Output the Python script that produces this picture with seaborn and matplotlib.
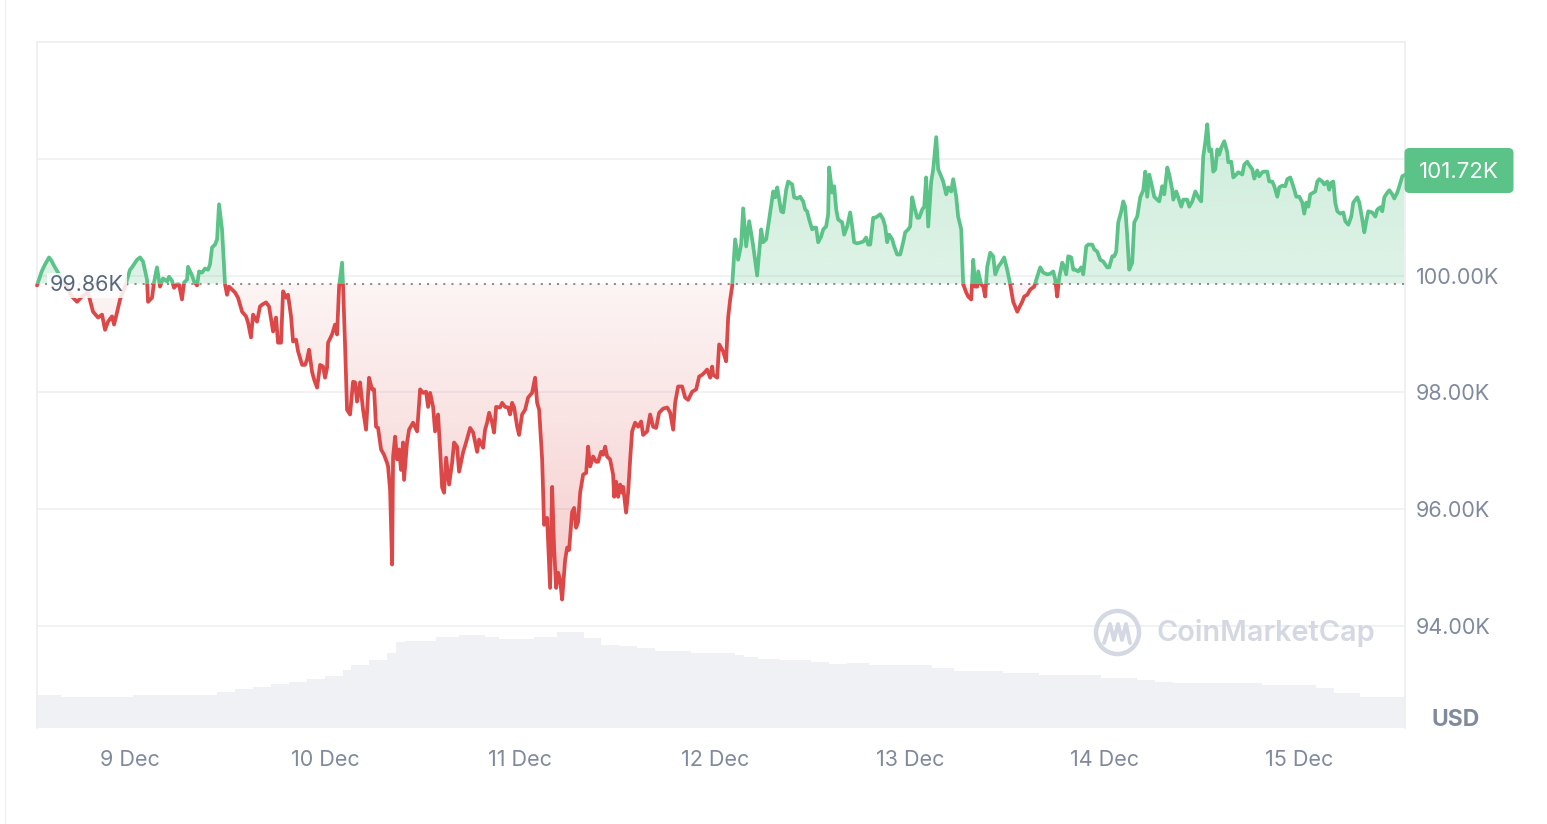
import numpy as np
import pandas as pd
import matplotlib
matplotlib.use("Agg")
import matplotlib.pyplot as plt
import seaborn as sns
from matplotlib.patches import FancyBboxPatch, Rectangle
from matplotlib.path import Path
from matplotlib.lines import Line2D
from matplotlib.colors import to_rgb

# ---------------- data ----------------
START = pd.Timestamp("2024-12-08 12:30")
HOURS = [
    0.00, 0.58, 0.99, 1.48, 1.81, 2.01, 2.59, 3.45, 4.31, 4.93, 5.54, 6.28, 6.90, 7.52, 8.01, 8.38,
    8.75, 9.24, 9.49, 9.86, 10.23, 10.84, 11.46, 11.70, 12.32, 12.69, 13.06, 13.55, 13.68, 14.17,
    14.41, 14.78, 15.15, 15.52, 16.02, 16.26, 16.63, 16.88, 17.25, 17.49, 17.86, 18.11, 18.48,
    18.60, 19.10, 19.34, 19.71, 19.96, 20.33, 20.70, 21.07, 21.31, 21.56, 21.93, 22.18, 22.42,
    22.79, 23.16, 23.41, 23.65, 24.02, 24.39, 24.76, 25.26, 25.75, 26.00, 26.36, 26.61, 27.10,
    27.47, 27.72, 28.21, 28.58, 29.08, 29.44, 29.69, 30.06, 30.31, 30.68, 30.92, 31.29, 31.54,
    31.91, 32.16, 32.65, 33.02, 33.26, 33.51, 33.88, 34.13, 34.50, 34.87, 35.24, 35.48, 35.73,
    35.85, 36.34, 36.71, 36.96, 37.21, 37.58, 37.70, 37.95, 38.19, 38.56, 38.93, 39.18, 39.42,
    39.79, 40.16, 40.53, 40.90, 41.27, 41.52, 41.76, 42.01, 42.38, 42.75, 43.12, 43.24, 43.49,
    43.74, 43.86, 44.11, 44.35, 44.60, 44.84, 45.09, 45.21, 45.58, 45.83, 46.32, 46.82, 47.19,
    47.56, 47.92, 48.17, 48.42, 48.79, 49.03, 49.40, 49.65, 49.90, 50.14, 50.39, 50.76, 51.13,
    51.37, 51.74, 51.99, 52.48, 52.85, 53.35, 53.72, 54.21, 54.45, 54.95, 55.19, 55.44, 55.69,
    56.06, 56.30, 56.55, 57.04, 57.29, 57.66, 58.03, 58.27, 58.52, 58.77, 59.14, 59.38, 59.75,
    60.12, 60.49, 60.98, 61.35, 61.60, 61.85, 62.22, 62.46, 62.83, 63.20, 63.45, 63.69, 63.94,
    64.19, 64.43, 64.68, 65.05, 65.30, 65.54, 65.91, 66.16, 66.40, 66.65, 66.90, 67.27, 67.64,
    67.88, 68.13, 68.50, 68.87, 69.12, 69.48, 69.73, 69.98, 70.22, 70.59, 70.96, 71.09, 71.33,
    71.58, 71.83, 72.07, 72.20, 72.56, 72.81, 73.06, 73.30, 73.67, 74.04, 74.41, 74.66, 75.15,
    75.52, 75.89, 76.26, 76.63, 77.12, 77.62, 77.99, 78.36, 78.60, 78.97, 79.46, 79.83, 80.20,
    80.70, 81.19, 81.56, 81.93, 82.30, 82.54, 82.91, 83.16, 83.28, 83.78, 84.02, 84.52, 84.88,
    85.13, 85.38, 85.62, 85.99, 86.36, 86.73, 86.98, 87.35, 87.72, 88.09, 88.33, 88.70, 89.20,
    89.44, 89.81, 90.18, 90.68, 90.92, 91.17, 91.66, 91.91, 92.28, 92.52, 93.02, 93.26, 93.63,
    94.00, 94.37, 94.62, 94.86, 95.11, 95.48, 95.73, 95.97, 96.22, 96.59, 96.84, 97.20, 97.45,
    97.57, 97.94, 98.19, 98.44, 98.68, 99.18, 99.42, 99.79, 100.16, 100.41, 100.65, 101.02,
    101.52, 101.76, 102.13, 102.38, 102.63, 103.00, 103.24, 103.49, 103.86, 104.23, 104.47,
    104.72, 104.97, 105.34, 105.58, 105.95, 106.32, 106.69, 106.94, 107.31, 107.55, 107.80,
    108.05, 108.42, 108.66, 109.03, 109.28, 109.52, 109.77, 110.14, 110.39, 110.76, 111.00,
    111.37, 111.62, 111.99, 112.24, 112.60, 112.85, 113.22, 113.46, 113.84, 114.08, 114.45,
    114.70, 115.07, 115.32, 115.56, 115.81, 115.93, 116.30, 116.55, 116.79, 117.04, 117.41,
    117.78, 118.03, 118.40, 118.76, 119.13, 119.50, 119.87, 120.24, 120.74, 120.98, 121.35,
    121.60, 121.97, 122.34, 122.83, 123.20, 123.57, 123.94, 124.43, 124.80, 125.17, 125.42,
    125.66, 125.91, 126.28, 126.53, 126.77, 127.02, 127.39, 127.64, 127.88, 128.25, 128.62,
    128.87, 129.24, 129.48, 129.98, 130.22, 130.59, 130.96, 131.33, 131.82, 132.07, 132.44,
    132.69, 132.93, 133.18, 133.55, 133.80, 134.04, 134.29, 134.53, 134.90, 135.15, 135.52,
    135.89, 136.26, 136.51, 136.75, 137.00, 137.37, 137.61, 137.98, 138.23, 138.60, 138.85,
    139.22, 139.46, 139.83, 139.96, 140.32, 140.57, 140.94, 141.19, 141.68, 141.93, 142.30,
    142.67, 143.04, 143.40, 143.65, 143.90, 144.14, 144.39, 144.64, 144.88, 145.13, 145.38,
    145.62, 145.87, 146.24, 146.61, 146.73, 147.10, 147.35, 147.72, 147.96, 148.46, 148.70,
    149.07, 149.32, 149.69, 149.93, 150.30, 150.55, 150.92, 151.17, 151.54, 151.78, 152.15,
    152.40, 152.77, 153.01, 153.38, 153.75, 154.00, 154.37, 154.74, 155.11, 155.48, 155.85,
    156.09, 156.34, 156.59, 156.83, 157.20, 157.45, 157.70, 157.94, 158.31, 158.56, 158.93,
    159.17, 159.42, 159.67, 159.91, 160.16, 160.53, 160.90, 161.15, 161.52, 161.88, 162.13,
    162.62, 162.87, 163.24, 163.49, 163.73, 163.98, 164.47, 164.84, 165.09, 165.46, 165.70,
    165.95, 166.32, 166.57, 166.94, 167.18, 167.55, 167.80, 168.17, 168.41,
]
PRICE_K = [
    99.83, 100.07, 100.19, 100.31, 100.25, 100.19, 100.05, 99.85, 99.64, 99.55, 99.64, 99.71, 99.38, 99.28, 99.33, 99.07,
    99.21, 99.30, 99.16, 99.37, 99.59, 99.81, 100.10, 100.14, 100.27, 100.31, 100.24, 99.93, 99.55, 99.62,
    99.88, 100.14, 99.81, 99.95, 99.90, 99.98, 99.91, 99.79, 99.85, 99.85, 99.59, 99.88, 99.93,
    100.15, 100.00, 99.90, 99.83, 100.07, 100.05, 100.12, 100.10, 100.19, 100.48, 100.53, 100.62, 101.22,
    100.79, 99.85, 99.67, 99.81, 99.76, 99.71, 99.62, 99.38, 99.30, 99.19, 98.94, 99.33, 99.21,
    99.47, 99.50, 99.54, 99.47, 99.04, 99.28, 98.85, 98.85, 99.73, 99.62, 99.67, 99.30, 98.87,
    98.90, 98.70, 98.47, 98.47, 98.56, 98.73, 98.35, 98.22, 98.08, 98.47, 98.44, 98.25, 98.42,
    98.85, 98.99, 99.16, 98.99, 99.81, 100.22, 99.81, 98.78, 97.70, 97.62, 98.18, 98.17, 97.84,
    98.17, 97.70, 97.36, 98.25, 98.05, 98.05, 97.41, 97.39, 97.02, 96.93, 96.79, 96.73, 96.33,
    95.05, 96.90, 97.24, 96.85, 97.02, 96.67, 97.14, 96.50, 97.14, 97.36, 97.48, 97.33, 98.05,
    97.99, 98.01, 97.75, 97.99, 97.75, 97.33, 97.62, 97.02, 96.37, 96.28, 96.88, 96.42, 96.79,
    97.14, 97.07, 96.64, 96.97, 97.14, 97.39, 97.31, 96.98, 97.19, 97.05, 97.36, 97.48, 97.65,
    97.48, 97.31, 97.75, 97.74, 97.82, 97.75, 97.74, 97.62, 97.82, 97.74, 97.41, 97.27, 97.62,
    97.70, 97.91, 97.99, 98.25, 97.82, 97.70, 96.85, 95.73, 95.85, 94.65, 96.38, 95.35, 94.65,
    94.91, 94.79, 94.45, 95.13, 95.34, 95.30, 95.95, 96.02, 95.68, 95.78, 96.28, 96.59, 96.62,
    97.07, 96.73, 96.90, 96.81, 96.81, 96.98, 96.93, 97.07, 96.90, 96.85, 96.59, 96.21, 96.47,
    96.21, 96.42, 96.28, 96.38, 95.94, 96.28, 96.85, 97.33, 97.48, 97.41, 97.50, 97.27, 97.33,
    97.62, 97.41, 97.39, 97.65, 97.72, 97.74, 97.65, 97.36, 97.82, 98.10, 98.10, 97.91, 97.87,
    98.01, 98.05, 98.27, 98.30, 98.35, 98.39, 98.25, 98.44, 98.30, 98.25, 98.82, 98.70, 98.53,
    99.28, 99.59, 99.81, 100.62, 100.27, 100.53, 101.15, 100.50, 100.93, 100.62, 100.39, 100.00, 100.79,
    100.57, 100.62, 100.96, 101.44, 101.34, 101.51, 101.10, 101.08, 101.47, 101.61, 101.56, 101.34, 101.32,
    101.35, 101.27, 101.13, 101.10, 100.96, 100.79, 100.82, 100.82, 100.57, 100.67, 100.79, 100.84, 101.05,
    101.85, 101.42, 101.53, 101.13, 100.96, 100.91, 100.70, 100.84, 101.08, 100.84, 100.57, 100.55,
    100.57, 100.58, 100.65, 100.53, 100.53, 100.99, 100.99, 101.01, 101.05, 100.96, 100.84,
    100.57, 100.70, 100.62, 100.50, 100.36, 100.36, 100.57, 100.74, 100.79, 100.84, 101.34,
    101.18, 100.99, 100.99, 101.13, 101.18, 101.68, 100.84, 101.61, 101.82, 102.37, 101.82,
    101.70, 101.61, 101.39, 101.51, 101.44, 101.65, 101.35, 101.01, 100.79, 99.85, 99.71,
    99.64, 99.59, 100.27, 99.81, 99.81, 100.07, 99.85, 99.81, 99.64, 100.15, 100.39,
    100.33, 100.02, 100.15, 100.22, 100.31, 100.10, 99.85, 99.55, 99.38, 99.45, 99.55,
    99.64, 99.67, 99.76, 99.81, 99.98, 100.14, 100.05, 100.02, 100.03, 100.07, 99.93,
    99.64, 99.97, 100.22, 100.15, 100.02, 100.33, 100.31, 100.10, 100.10, 100.07, 100.14,
    100.02, 100.50, 100.53, 100.53, 100.45, 100.41, 100.27, 100.24, 100.14, 100.14, 100.33,
    100.33, 100.41, 100.91, 101.10, 101.27, 101.17, 100.67, 100.10, 100.22, 100.91, 101.01,
    101.34, 101.46, 101.78, 101.35, 101.73, 101.51, 101.35, 101.30, 101.27, 101.53, 101.39,
    101.85, 101.73, 101.47, 101.30, 101.44, 101.34, 101.18, 101.30, 101.30, 101.18, 101.27,
    101.44, 101.34, 101.27, 102.04, 102.28, 102.59, 102.13, 102.16, 101.78, 101.82, 102.16,
    102.07, 102.19, 102.30, 102.11, 101.94, 101.95, 101.68, 101.73, 101.77, 101.73, 101.90,
    101.95, 101.89, 101.82, 101.66, 101.80, 101.70, 101.77, 101.78, 101.78, 101.61, 101.61,
    101.53, 101.35, 101.51, 101.54, 101.53, 101.65, 101.68, 101.53, 101.35, 101.35, 101.25,
    101.06, 101.25, 101.18, 101.39, 101.42, 101.44, 101.61, 101.65, 101.61, 101.56, 101.61,
    101.47, 101.59, 101.61, 101.25, 101.10, 101.06, 101.08, 100.93, 100.87, 101.01, 101.25,
    101.34, 101.25, 100.96, 100.74, 100.93, 101.10, 101.08, 101.01, 101.13, 101.17, 101.10,
    101.34, 101.42, 101.46, 101.39, 101.32, 101.42, 101.53, 101.70, 101.72,
]
VOL_HOURS = [
    0.00, 2.96, 7.39, 11.83, 22.18, 24.39, 26.61, 28.83, 31.05, 33.26, 35.48, 37.70, 38.68,
    40.90, 43.12, 44.23, 45.34, 49.16, 51.99, 55.19, 56.92, 61.23, 64.06, 67.39, 69.48, 71.70,
    73.92, 76.14, 80.57, 85.99, 87.10, 88.83, 91.54, 95.36, 97.57, 99.79, 102.50, 110.26,
    112.97, 119.01, 123.45, 131.08, 135.52, 137.74, 139.96, 150.92, 157.57, 159.79, 162.99,
]
VOL_B = [
    41.3, 38.8, 38.8, 41.3, 45.0, 48.8, 51.3, 55.0, 57.5, 61.3, 65.0, 72.5, 78.8,
    85.0, 93.8, 107.5, 108.8, 113.8, 116.3, 113.8, 111.3, 113.8, 120.0, 112.5, 103.8, 102.5,
    100.0, 96.3, 93.8, 91.3, 88.8, 86.3, 85.0, 82.5, 80.0, 81.3, 78.8, 75.0,
    71.3, 68.8, 66.3, 62.5, 60.0, 57.5, 56.3, 53.8, 50.0, 43.8, 38.8,
]
BASELINE_K = 99.86
LAST_K = 101.72
Y_TICKS = [94, 96, 98, 100, 102]
Y_LABELS = ["94.00K", "96.00K", "98.00K", "100.00K", ""]  # 102.00K sits under the price badge
X_DAYS = ["2024-12-09", "2024-12-10", "2024-12-11", "2024-12-12", "2024-12-13", "2024-12-14", "2024-12-15"]
X_LABELS = ["9 Dec", "10 Dec", "11 Dec", "12 Dec", "13 Dec", "14 Dec", "15 Dec"]
END_HOURS = 168.5

GREEN = "#5cc388"
RED = "#dc4848"
GREY = "#808a9d"

# ---------------- figure ----------------
sns.set_theme(style="white")
plt.rcParams["font.family"] = ["Inter", "DejaVu Sans"]

W, H = 1547, 824
fig = plt.figure(figsize=(W / 100, H / 100), dpi=100)
fig.patch.set_facecolor("white")
pos = [37 / W, 1 - 728 / H, (1405 - 37) / W, (728 - 42) / H]

# volume axes (behind)
axv = fig.add_axes(pos, zorder=0)
vx = np.append(VOL_HOURS, END_HOURS)
vy = np.append(VOL_B, VOL_B[-1])
axv.fill_between(vx, 0, vy, step="post", color="#eff1f5", lw=0)
axv.set_xlim(0, END_HOURS)
axv.set_ylim(0, 686 * 1.25)
axv.axis("off")

# price axes
ax = fig.add_axes(pos, zorder=1)
ax.patch.set_visible(False)
df = pd.DataFrame({"hours": HOURS, "price": PRICE_K})
t = df["hours"].to_numpy()
p = df["price"].to_numpy()

ylim = (92.25, 104.0)
ax.set_xlim(0, END_HOURS)
ax.set_ylim(*ylim)


def gradient_fill(mask_above, color, a_near, a_far):
    coll = ax.fill_between(t, p, BASELINE_K, where=(p >= BASELINE_K) if mask_above else (p <= BASELINE_K),
                           interpolate=True, color="none", lw=0)
    paths = coll.get_paths()
    if not paths:
        return
    clip = Path.make_compound_path(*paths)
    n = 256
    img = np.zeros((n, 2, 4))
    img[..., :3] = to_rgb(color)
    if mask_above:
        y0, y1 = BASELINE_K, p.max()
        al = np.linspace(a_far, a_near, n)
    else:
        y0, y1 = p.min(), BASELINE_K
        al = np.linspace(a_near, a_far, n)
    img[..., 3] = al[:, None]
    im = ax.imshow(img, extent=[0, END_HOURS, y0, y1], aspect="auto", origin="upper", zorder=1,
                   interpolation="bilinear")
    im.set_clip_path(clip, transform=ax.transData)


gradient_fill(True, GREEN, 0.20, 0.30)
gradient_fill(False, RED, 0.06, 0.28)
ax.set_xlim(0, END_HOURS)
ax.set_ylim(*ylim)

# grid
for yv in Y_TICKS:
    ax.axhline(yv, color="#eff0f2", lw=1.2, zorder=0.5)

# baseline dotted
ax.axhline(BASELINE_K, color="#8f8f8f", lw=1.5, ls=(0, (1, 2.9)), zorder=2)

# price line coloured above / below baseline
sns.lineplot(data=df, x="hours", y="price", ax=ax, color=GREEN, lw=2.7, zorder=3)
ln_g = ax.lines[-1]
ln_g.set_clip_path(Rectangle((-10, BASELINE_K), 400, 50, transform=ax.transData))
sns.lineplot(data=df, x="hours", y="price", ax=ax, color=RED, lw=2.7, zorder=3)
ln_r = ax.lines[-1]
ln_r.set_clip_path(Rectangle((-10, BASELINE_K - 50), 400, 50, transform=ax.transData))
ln_g.set_solid_joinstyle("round")
ln_r.set_solid_joinstyle("round")

# baseline label
ax.text(1.6, BASELINE_K - 0.03, f"{BASELINE_K:.2f}K", ha="left", va="center", fontsize=15.5,
        color="#58667e", zorder=4,
        bbox=dict(boxstyle="square,pad=0.12", fc="white", ec="none", alpha=0.86))

# axes styling
tick_hours = [(pd.Timestamp(d) - START) / pd.Timedelta(hours=1) for d in X_DAYS]
ax.set_xticks(tick_hours)
ax.set_xticklabels(X_LABELS)
ax.set_yticks(Y_TICKS)
ax.set_yticklabels(Y_LABELS)
ax.yaxis.tick_right()
ax.tick_params(axis="y", length=0, pad=8, labelsize=15.5, labelcolor=GREY)
ax.tick_params(axis="x", length=0, pad=16, labelsize=15.5, labelcolor=GREY)
ax.set_xlabel("")
ax.set_ylabel("")
for side in ["top", "left", "right"]:
    ax.spines[side].set_color("#eceef1")
    ax.spines[side].set_linewidth(1.2)
ax.spines["bottom"].set_visible(False)

# last price badge
badge = FancyBboxPatch((14.045, (H - 193) / 100), 1.09, 0.45,
                       boxstyle="round,pad=0,rounding_size=0.05",
                       transform=fig.dpi_scale_trans, fc=GREEN, ec="none", zorder=10)
fig.patches.append(badge)
fig.text(14.045 + 0.545, (H - 172) / 100, f"{LAST_K:.2f}K", transform=fig.dpi_scale_trans,
         ha="center", va="center", fontsize=16, color="white", zorder=11)

# USD label
fig.text(1456 / W, 1 - 720 / H, "USD", ha="center", va="center", fontsize=16.5, fontweight="bold",
         color=GREY)

# watermark
wm = "#d3d8e3"
fig.text(1157 / W, 1 - 633 / H, "CoinMarketCap", ha="left", va="center", fontsize=20.8,
         fontweight="semibold", color=wm, zorder=2)
ring = Line2D([1117 / W], [1 - 632 / H], transform=fig.transFigure, marker="o", markersize=31,
              mfc="none", mec=wm, mew=3.2, ls="none")
fig.lines.append(ring)
mx = np.array([1104, 1110, 1114, 1118, 1122, 1126, 1130]) / W
my = 1 - np.array([643, 624, 640, 624, 640, 624, 643]) / H
fig.lines.append(Line2D(mx, my, transform=fig.transFigure, color=wm, lw=2.8,
                        solid_joinstyle="round", solid_capstyle="round"))

# card edge
fig.lines.append(Line2D([5 / W, 5 / W], [0, 1], transform=fig.transFigure, color="#eff0f3", lw=1))

fig.savefig("out.png", dpi=100, facecolor="white")
